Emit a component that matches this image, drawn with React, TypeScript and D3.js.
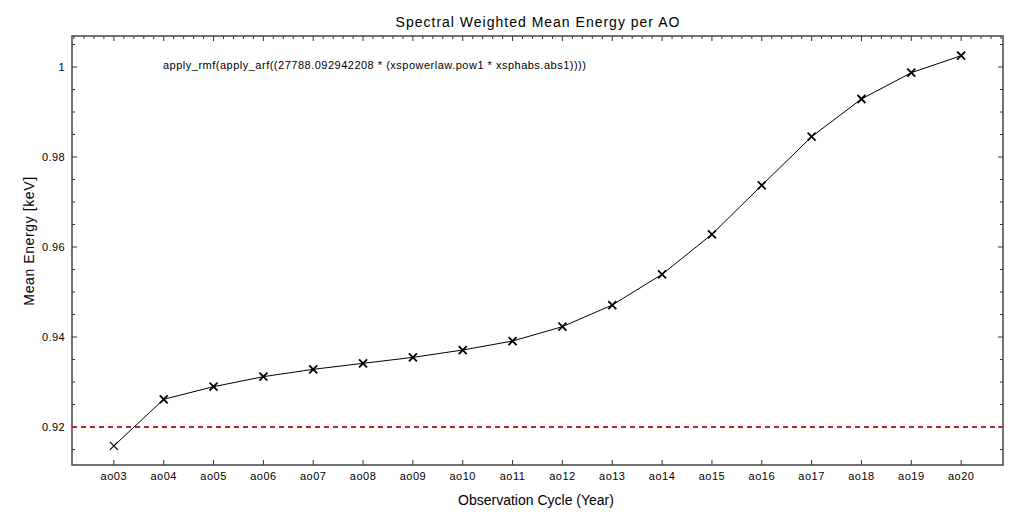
import { useRef, useEffect } from "react";
import * as d3 from "d3";

const cycles = [
  "ao03", "ao04", "ao05", "ao06", "ao07", "ao08", "ao09", "ao10", "ao11",
  "ao12", "ao13", "ao14", "ao15", "ao16", "ao17", "ao18", "ao19", "ao20",
];
const meanEnergy = [
  0.9158, 0.92616, 0.92896, 0.93119, 0.93282, 0.93415, 0.93548, 0.93711,
  0.93911, 0.9423, 0.94711, 0.95393, 0.96282, 0.97371, 0.98451, 0.99289,
  0.99873, 1.00251,
];
const yTicks = [0.92, 0.94, 0.96, 0.98, 1];
const threshold = 0.92;
const modelExpr =
  "apply_rmf(apply_arf((27788.092942208 * (xspowerlaw.pow1 * xsphabs.abs1))))";

const width = 1024;
const height = 512;
const font = "'Liberation Sans', Arial, Helvetica, sans-serif";

export default function App() {
  const svgRef = useRef<SVGSVGElement>(null);

  useEffect(() => {
    if (!svgRef.current) return;
    const svg = d3.select(svgRef.current);
    svg.selectAll("*").remove();

    const margin = { top: 36, right: 21, bottom: 47, left: 72 };
    const x0 = margin.left;
    const x1 = width - margin.right;
    const y0 = margin.top;
    const y1 = height - margin.bottom;

    const x = d3.scaleLinear().domain([-0.84, cycles.length - 1 + 0.84]).range([x0, x1]);
    const y = d3.scaleLinear().domain([0.91156, 1.00689]).range([y1, y0]);

    svg.append("rect").attr("width", width).attr("height", height).attr("fill", "#fff");

    // minor ticks
    const minorY = d3.range(0.915, 1.0066, 0.005);
    const tickG = svg.append("g").attr("stroke", "#333").attr("stroke-width", 1);
    minorY.forEach((v) => {
      const isMajor = yTicks.some((t) => Math.abs(t - v) < 1e-6);
      const len = isMajor ? 5 : 3;
      tickG.append("line").attr("x1", x0).attr("x2", x0 + len).attr("y1", y(v)).attr("y2", y(v));
      tickG.append("line").attr("x1", x1).attr("x2", x1 - len).attr("y1", y(v)).attr("y2", y(v));
    });
    const minorX = d3.range(-0.8, cycles.length - 1 + 0.84, 0.2);
    minorX.forEach((v) => {
      const isMajor = Math.abs(v - Math.round(v)) < 1e-6 && Math.round(v) >= 0;
      tickG.append("line").attr("x1", x(v)).attr("x2", x(v)).attr("y1", y0).attr("y2", y0 + (isMajor ? 5 : 3));
    });
    cycles.forEach((_, i) => {
      tickG.append("line").attr("x1", x(i)).attr("x2", x(i)).attr("y1", y1).attr("y2", y1 - 5);
    });

    // frame
    svg.append("rect")
      .attr("x", x0).attr("y", y0).attr("width", x1 - x0).attr("height", y1 - y0)
      .attr("fill", "none").attr("stroke", "#444").attr("stroke-width", 1.5);

    // tick labels
    svg.append("g").selectAll("text").data(yTicks).join("text")
      .attr("x", x0 - 7).attr("y", (d) => y(d) + 4)
      .attr("text-anchor", "end").attr("font-family", font).attr("font-size", 11)
      .attr("letter-spacing", 0.4)
      .attr("fill", "#000").text((d) => String(d));
    svg.append("g").selectAll("text").data(cycles).join("text")
      .attr("x", (_, i) => x(i)).attr("y", y1 + 15)
      .attr("text-anchor", "middle").attr("font-family", font).attr("font-size", 11)
      .attr("letter-spacing", 0.5)
      .attr("fill", "#000").text((d) => d);

    // threshold line
    svg.append("line")
      .attr("x1", x0).attr("x2", x1).attr("y1", y(threshold)).attr("y2", y(threshold))
      .attr("stroke", "#b5282b").attr("stroke-width", 2).attr("stroke-dasharray", "5,4");

    // series
    const line = d3.line<number>().x((_, i) => x(i)).y((d) => y(d));
    svg.append("path").datum(meanEnergy).attr("d", line)
      .attr("fill", "none").attr("stroke", "#000").attr("stroke-width", 1);
    const s = 4;
    svg.append("g").selectAll("path").data(meanEnergy).join("path")
      .attr("d", (d, i) => {
        const cx = x(i), cy = y(d);
        return `M${cx - s},${cy - s}L${cx + s},${cy + s}M${cx - s},${cy + s}L${cx + s},${cy - s}`;
      })
      .attr("stroke", "#000").attr("stroke-width", (_, i) => (i === 0 ? 1.2 : 1.8)).attr("fill", "none");

    // texts
    svg.append("text").attr("x", 538).attr("y", 27).attr("text-anchor", "middle")
      .attr("font-family", font).attr("font-size", 14).attr("letter-spacing", 1).attr("fill", "#000")
      .text("Spectral Weighted Mean Energy per AO");
    svg.append("text").attr("x", 163).attr("y", 69)
      .attr("font-family", font).attr("font-size", 11).attr("letter-spacing", 0.5).attr("fill", "#000")
      .text(modelExpr);
    svg.append("text").attr("x", 536).attr("y", 505).attr("text-anchor", "middle")
      .attr("font-family", font).attr("font-size", 14).attr("fill", "#000")
      .text("Observation Cycle (Year)");
    svg.append("text")
      .attr("transform", `translate(34,241) rotate(-90)`)
      .attr("text-anchor", "middle")
      .attr("font-family", font).attr("font-size", 14).attr("letter-spacing", 0.6).attr("fill", "#000")
      .text("Mean Energy [keV]");
  }, []);

  return (
    <svg
      ref={svgRef}
      width={width}
      height={height}
      style={{ position: "absolute", left: 0, top: 0, display: "block" }}
    />
  );
}
